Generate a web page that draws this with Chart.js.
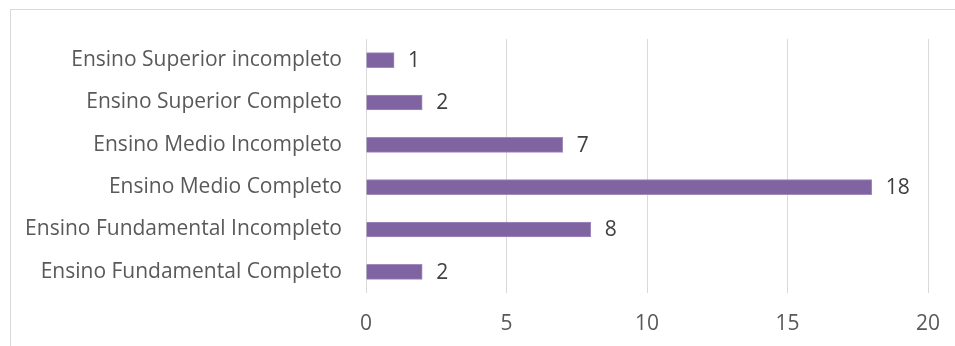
<!DOCTYPE html>
<html>
<head>
<meta charset="utf-8">
<script src="https://cdn.jsdelivr.net/npm/chart.js@4"></script>
<style>
  html, body { margin: 0; padding: 0; background: #fff; }
  #wrap { position: relative; width: 955px; height: 346px; }
  #frame {
    position: absolute; left: 10px; top: 9px; right: 0; bottom: 0;
    border-left: 1px solid #d9d9d9; border-top: 1px solid #d9d9d9;
  }
  canvas { position: absolute; left: 0; top: 0; }
</style>
</head>
<body>
<div id="wrap">
  <div id="frame"></div>
  <canvas id="escolaridadeChart" width="955" height="346"></canvas>
</div>
<script>
// Categories, top to bottom as shown
const categories = [
  'Ensino Superior incompleto',
  'Ensino Superior Completo',
  'Ensino Medio Incompleto',
  'Ensino Medio Completo',
  'Ensino Fundamental Incompleto',
  'Ensino Fundamental Completo'
];
const counts = [1, 2, 7, 18, 8, 2];
const xTicks = [0, 5, 10, 15, 20];

const FONT = '"Open Sans", sans-serif';

// Draws the value to the right of every bar
const valueLabels = {
  id: 'valueLabels',
  afterDatasetsDraw(chart) {
    const ctx = chart.ctx;
    const meta = chart.getDatasetMeta(0);
    ctx.save();
    ctx.font = '21px ' + FONT;
    ctx.fillStyle = '#404040';
    ctx.textAlign = 'left';
    ctx.textBaseline = 'middle';
    meta.data.forEach((bar, i) => {
      ctx.fillText(String(counts[i]), bar.x + 14, bar.y + 1);
    });
    ctx.restore();
  }
};

new Chart(document.getElementById('escolaridadeChart'), {
  type: 'bar',
  data: {
    labels: categories,
    datasets: [{
      data: counts,
      backgroundColor: '#8064a2',
      borderColor: '#9f8bbd',
      borderWidth: 1,
      barThickness: 15
    }]
  },
  options: {
    indexAxis: 'y',
    responsive: false,
    animation: false,
    layout: { padding: { top: 39, right: 27, left: 0, bottom: 0 } },
    plugins: {
      legend: { display: false },
      tooltip: { enabled: false }
    },
    scales: {
      x: {
        min: 0,
        max: 20,
        afterBuildTicks: scale => { scale.ticks = xTicks.map(v => ({ value: v })); },
        afterFit: scale => {
          scale.height = 53;
          scale.paddingLeft = 0;
          scale.paddingRight = 0;
        },
        grid: { color: '#d9d9d9', lineWidth: 1, drawTicks: false },
        border: { display: false },
        ticks: {
          padding: 18,
          color: '#595959',
          font: { family: FONT, size: 21 }
        }
      },
      y: {
        afterFit: scale => { scale.width = 366; },
        grid: { display: false, drawTicks: false },
        border: { display: false },
        ticks: {
          padding: 24,
          color: '#595959',
          font: { family: FONT, size: 21 }
        }
      }
    }
  },
  plugins: [valueLabels]
});
</script>
</body>
</html>
